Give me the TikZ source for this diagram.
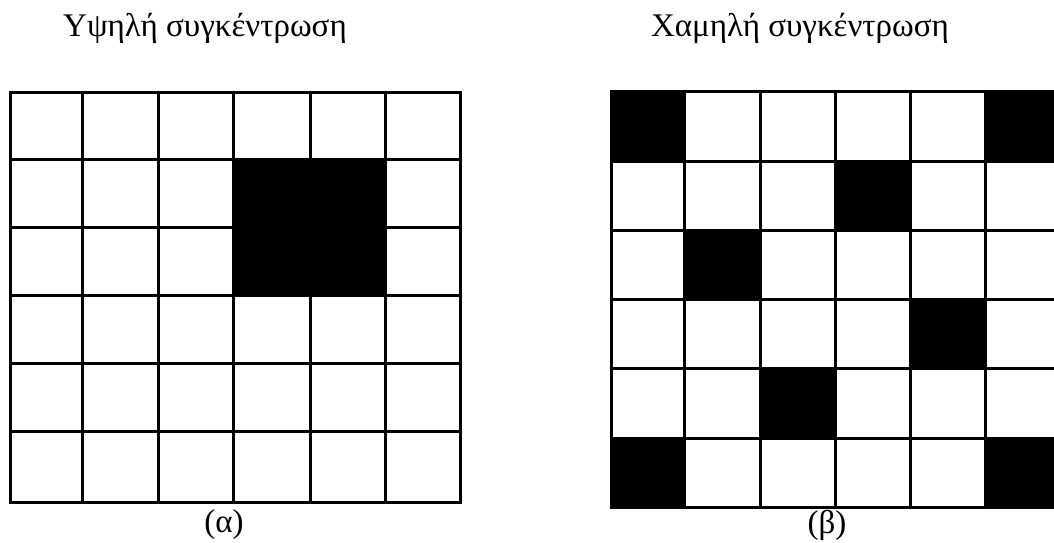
\documentclass[tikz,border=0pt]{standalone}
\usepackage{fontspec}
\setmainfont{Liberation Serif}
\begin{document}
\begin{tikzpicture}[x=1pt,y=-1pt,
  gridline/.style={line width=3pt, line cap=rect},
  blackcell/.style={fill=black},
  lbl/.style={font=\fontsize{33}{36}\selectfont, inner sep=0pt}]
\useasboundingbox (0,0) rectangle (1054,543);
\begin{scope}
\clip (0,0) rectangle (1054,543);
% left grid
\fill[blackcell] (233,159) rectangle (385,295);
\foreach \x in {10,82,158,233,310,385,460} \draw[gridline] (\x,92) -- (\x,502);
\foreach \y in {92,159,227,295,363,431,502} \draw[gridline] (10,\y) -- (460,\y);
% right grid
\foreach \c/\r in {0/0,5/0,3/1,1/2,4/3,2/4,0/5,5/5}{
  \pgfmathsetmacro{\xa}{611+75*\c}
  \pgfmathsetmacro{\ya}{91+69.33*\r}
  \fill[blackcell] (\xa,\ya) rectangle ({\xa+75},{\ya+69.33});
}
\foreach \x in {611,684,760,835,910,985,1060} \draw[gridline] (\x,91) -- (\x,507);
\foreach \y in {91,161,230,299,368,438,507} \draw[gridline] (611,\y) -- (1060,\y);
\end{scope}
\node[lbl, anchor=base] (ta) at (205,37) {Υψηλή συγκέντρωση};
\node[lbl, anchor=base] (tb) at (800,37) {Χαμηλή συγκέντρωση};
\node[lbl] (ca) at (224,525) {(α)};
\node[lbl] (cb) at (827,525) {(β)};
\end{tikzpicture}
\end{document}
